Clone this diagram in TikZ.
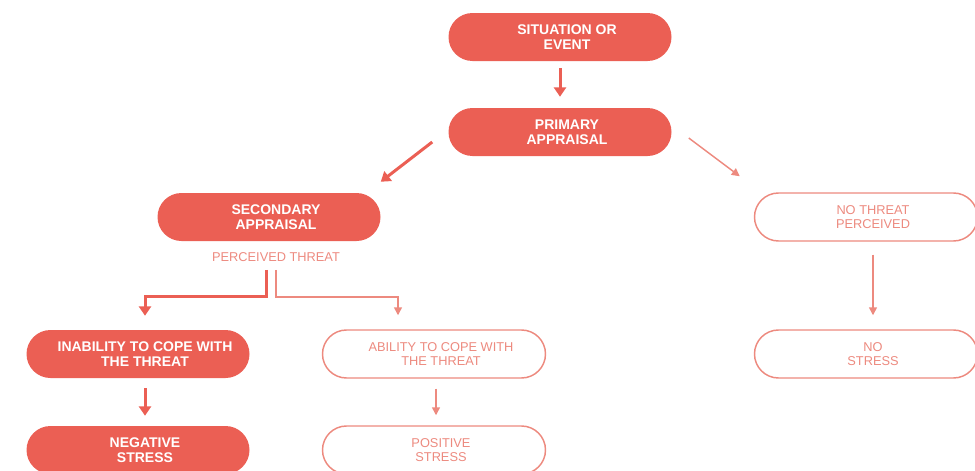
\documentclass[tikz,border=0pt]{standalone}
\usepackage{fontspec}
\setmainfont{Liberation Sans}
\usetikzlibrary{arrows.meta,calc}
\definecolor{coral}{RGB}{235,95,84}
\definecolor{salmon}{RGB}{237,138,127}
\begin{document}
\begin{tikzpicture}[x=0.75pt,y=-0.75pt,
  pill/.style={rounded corners=18pt, minimum width=167.25pt, minimum height=36pt, inner sep=0pt},
  solidpill/.style={pill, fill=coral},
  openpill/.style={pill, draw=salmon, line width=1.1pt, fill=white},
  boldlabel/.style={text=white, font=\bfseries\fontsize{10.5}{11}\selectfont, align=center, inner sep=0pt},
  lightlabel/.style={text=salmon, font=\fontsize{9.6}{11}\selectfont, align=center, inner sep=0pt},
  strong/.style={draw=coral, line width=2.25pt, -{Triangle[width=9pt,length=7pt]}},
  weak/.style={draw=salmon, line width=1.1pt, -{Triangle[width=6pt,length=6pt]}},
]
\useasboundingbox (0,0) rectangle (975,471);
\clip (0,0) rectangle (975,471);

% boxes
\node[solidpill] (sit)   at (560,37)  {};
\node[solidpill] (prim)  at (560,132) {};
\node[solidpill] (sec)   at (269,217) {};
\node[openpill]  (nothr) at (866,217) {};
\node[solidpill] (inab)  at (138,354) {};
\node[openpill]  (abil)  at (434,354) {};
\node[openpill]  (nostr) at (866,354) {};
\node[solidpill] (neg)   at (138,450) {};
\node[openpill]  (pos)   at (434,450) {};

% box captions
\node[boldlabel]  (sit-t)   at ($(sit)+(7,0)$)   {SITUATION OR\\EVENT};
\node[boldlabel]  (prim-t)  at ($(prim)+(7,0)$)  {PRIMARY\\APPRAISAL};
\node[boldlabel]  (sec-t)   at ($(sec)+(7,0)$)   {SECONDARY\\APPRAISAL};
\node[lightlabel] (nothr-t) at ($(nothr)+(7,0)$) {NO THREAT\\PERCEIVED};
\node[boldlabel]  (inab-t)  at ($(inab)+(7,0)$)  {INABILITY TO COPE WITH\\THE THREAT};
\node[lightlabel] (abil-t)  at ($(abil)+(7,0)$)  {ABILITY TO COPE WITH\\THE THREAT};
\node[lightlabel] (nostr-t) at ($(nostr)+(7,0)$) {NO\\STRESS};
\node[boldlabel]  (neg-t)   at ($(neg)+(7,0)$)   {NEGATIVE\\STRESS};
\node[lightlabel] (pos-t)   at ($(pos)+(7,0)$)   {POSITIVE\\STRESS};
\node[lightlabel] (perc)    at (276,257) {PERCEIVED THREAT};

% connectors
\draw[strong] ($(sit.south)+(0,7)$) -- ($(prim.north)+(0,-11)$);
\draw[strong] ($(prim.west)+(-16,10)$) -- ($(sec.north east)+(0,-11)$);
\draw[weak]   ($(prim.east)+(17,6)$) -- ($(nothr.north west)+(-14,-16)$);
\draw[weak]   ($(nothr.south)+(7,13)$) -- ($(nostr.north)+(7,-14)$);
\draw[strong] ($(perc.south)+(-10,8)$) -- ($(perc.south)+(-10,35)$) -| ($(inab.north)+(7,-14)$);
\draw[weak]   ($(perc.south)+(0,8)$) -- ($(perc.south)+(0,35)$) -| ($(abil.north)+(-36,-14)$);
\draw[strong] ($(inab.south)+(7,10)$) -- ($(neg.north)+(7,-10)$);
\draw[weak]   ($(abil.south)+(2,10)$) -- ($(pos.north)+(2,-10)$);
\end{tikzpicture}
\end{document}
